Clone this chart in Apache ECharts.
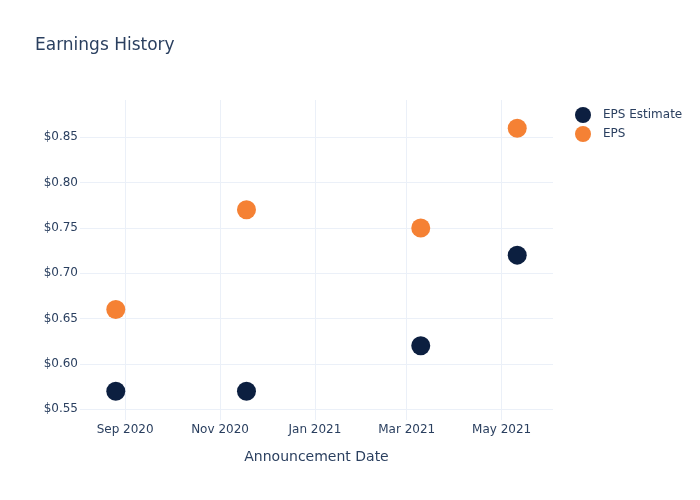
<!DOCTYPE html>
<html><head><meta charset="utf-8">
<script src="https://cdn.jsdelivr.net/npm/echarts@6/dist/echarts.min.js"></script>
<style>html,body{margin:0;padding:0;background:#fff}#c{width:700px;height:500px}</style>
</head><body><div id="c"></div>
<script>
const dates = ['2020-08-26', '2020-11-18', '2021-03-10', '2021-05-11'];
const epsEstimate = [0.57, 0.57, 0.62, 0.72];
const eps = [0.66, 0.77, 0.75, 0.86];
const xTicks = ['2020-09-01', '2020-11-01', '2021-01-01', '2021-03-01', '2021-05-01'];
const yTicks = [0.55, 0.60, 0.65, 0.70, 0.75, 0.80, 0.85];
const xRange = ['2020-08-03', '2021-06-03'];
const yRange = [0.5382, 0.8911];
const months = ['Jan','Feb','Mar','Apr','May','Jun','Jul','Aug','Sep','Oct','Nov','Dec'];

function ts(s){ const p = s.split('-').map(Number); return Date.UTC(p[0], p[1]-1, p[2]); }
const FONT = 'DejaVu Sans';
const TXT = '#2a3f5f';
const GRID = '#ebf0f8';

const chart = echarts.init(document.getElementById('c'), null, {renderer:'canvas'});
chart.setOption({
  animation: false,
  backgroundColor: '#fff',
  title: { text: 'Earnings History', left: 30, top: 32,
    textStyle: { fontFamily: FONT, fontSize: 17, fontWeight: 'normal', color: TXT } },
  legend: {
    left: 570, top: 102, orient: 'vertical', itemWidth: 30, itemHeight: 16, itemGap: 3,
    icon: 'circle',
    textStyle: { fontFamily: FONT, fontSize: 12, color: TXT },
    data: ['EPS Estimate', 'EPS']
  },
  grid: { left: 80, right: 147, top: 100, bottom: 80, containLabel: false },
  xAxis: {
    type: 'value', min: ts(xRange[0]), max: ts(xRange[1]),
    name: 'Announcement Date', nameLocation: 'middle', nameGap: 30,
    nameTextStyle: { fontFamily: FONT, fontSize: 14, color: TXT },
    axisLine: { show: false },
    axisTick: { show: false, customValues: xTicks.map(ts) },
    axisLabel: { customValues: xTicks.map(ts), margin: 4, fontFamily: FONT, fontSize: 12, color: TXT,
      hideOverlap: false,
      formatter: v => { const d = new Date(v); return months[d.getUTCMonth()] + ' ' + d.getUTCFullYear(); } },
    splitLine: { show: true, lineStyle: { color: GRID, width: 1 } }
  },
  yAxis: {
    type: 'value', min: yRange[0], max: yRange[1],
    axisLine: { show: false },
    axisTick: { show: false, customValues: yTicks },
    axisLabel: { customValues: yTicks, margin: 2, fontFamily: FONT, fontSize: 12, color: TXT,
      formatter: v => '$' + v.toFixed(2) },
    splitLine: { show: true, lineStyle: { color: GRID, width: 1 } }
  },
  series: [
    { name: 'EPS Estimate', type: 'scatter', symbolSize: 19, itemStyle: { color: '#0c1f40', opacity: 1 },
      data: dates.map((d, i) => [ts(d), epsEstimate[i]]) },
    { name: 'EPS', type: 'scatter', symbolSize: 19, itemStyle: { color: '#f58134', opacity: 1 },
      data: dates.map((d, i) => [ts(d), eps[i]]) }
  ]
});
</script></body></html>
